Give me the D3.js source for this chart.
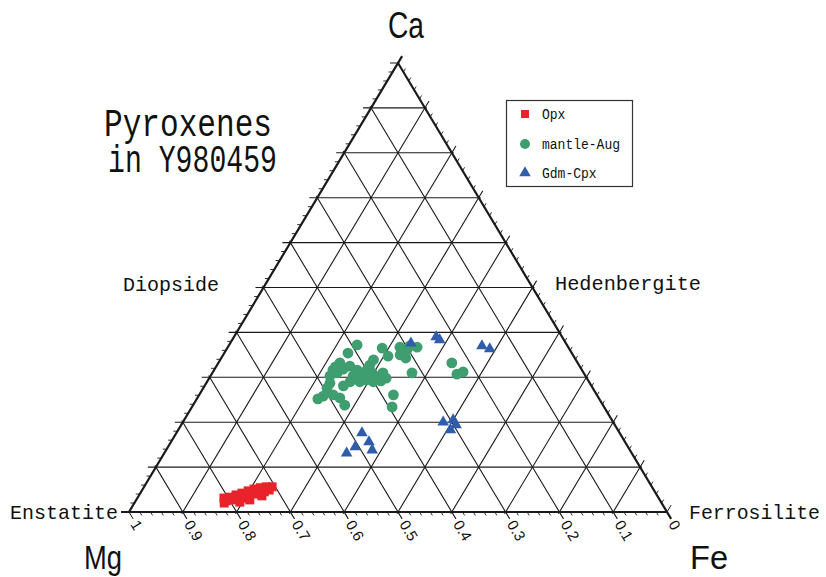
<!DOCTYPE html>
<html>
<head>
<meta charset="utf-8">
<script src="https://cdn.jsdelivr.net/npm/d3@7"></script>
<style>
  body { margin: 0; background: #fff; }
</style>
</head>
<body>
<svg id="chart" width="826" height="577"></svg>
<script>
// composition data, [Wo(Ca), En(Mg), Fs(Fe)] in mol%
const opxData = [
  [2.5, 80.7, 16.8], [2.7, 79.5, 17.8], [2.9, 78.3, 18.8], [3.1, 77.1, 19.8],
  [3.6, 75.9, 20.5], [4.0, 74.8, 21.2], [4.2, 73.8, 22.0], [4.5, 72.6, 22.9],
  [4.9, 71.5, 23.6], [5.6, 70.6, 23.8], [5.6, 71.7, 22.7], [5.4, 72.9, 21.7],
  [5.1, 74.2, 20.7], [4.7, 75.5, 19.8], [4.2, 76.9, 18.9], [3.8, 78.2, 18.0],
  [3.3, 79.6, 17.1], [3.1, 80.8, 16.1], [2.0, 81.3, 16.7], [2.7, 76.2, 21.1],
  [3.6, 73.5, 22.9], [2.2, 78.3, 19.5]
];
const augData = [
  [37.2, 39.0, 23.8], [35.4, 41.6, 23.0], [36.5, 34.7, 28.8], [34.7, 34.5, 30.8],
  [36.7, 31.3, 32.0], [35.6, 31.3, 33.1], [35.0, 32.1, 32.9], [36.1, 30.3, 33.6],
  [37.0, 29.3, 33.7], [36.7, 28.1, 35.2], [33.2, 44.2, 22.6], [31.6, 46.3, 22.1],
  [30.3, 47.5, 22.2], [31.0, 45.8, 23.2], [31.8, 44.3, 23.9], [32.5, 42.7, 24.8],
  [31.6, 41.8, 26.6], [30.3, 43.2, 26.5], [31.0, 41.6, 27.4], [31.6, 40.0, 28.4],
  [32.7, 38.9, 28.4], [33.9, 37.6, 28.5], [31.0, 39.3, 29.7], [30.1, 38.8, 31.1],
  [29.2, 38.6, 32.2], [29.0, 40.1, 30.9], [29.4, 41.2, 29.4], [30.5, 41.3, 28.2],
  [28.7, 48.3, 23.0], [27.6, 49.4, 23.0], [25.8, 51.0, 23.2], [25.2, 52.3, 22.5],
  [26.1, 49.0, 24.9], [25.4, 48.1, 26.5], [23.8, 48.0, 28.2], [26.1, 37.8, 36.1],
  [23.4, 39.4, 37.2], [31.0, 31.9, 37.1], [33.2, 23.4, 43.4], [30.7, 23.7, 45.6],
  [31.2, 22.3, 46.5], [29.0, 44.4, 26.6], [28.1, 46.1, 25.8], [29.8, 37.3, 32.9],
  [29.0, 42.6, 28.4], [32.3, 45.5, 22.2], [34.3, 31.4, 34.3], [31.0, 37.3, 31.7]
];
const gdmData = [
  [37.6, 28.8, 33.6], [39.0, 23.4, 37.6], [38.3, 23.1, 38.6], [37.0, 15.9, 47.1],
  [36.3, 14.8, 48.9], [20.0, 31.6, 48.4], [20.5, 29.5, 50.0], [18.3, 31.1, 50.6],
  [19.4, 29.5, 51.1], [17.6, 47.9, 34.5], [15.6, 47.6, 36.8], [14.5, 50.7, 34.8],
  [13.8, 47.9, 38.3], [13.1, 53.0, 33.9]
];
const seriesNames = ["Opx", "mantle-Aug", "Gdm-Cpx"];
const seriesColors = ["#e8232b", "#3f9e70", "#2f5dab"];
const mgTicks = [1, 0.9, 0.8, 0.7, 0.6, 0.5, 0.4, 0.3, 0.2, 0.1, 0];

const svg = d3.select("#chart");

const x = d3.scaleLinear().domain([0, 1]).range([129, 667]);
const y = d3.scaleLinear().domain([0, 1]).range([512, 63]);

function proj(ca, fe) {
    return [x(fe + ca / 2), y(ca)];
}
function projPct(d) {
    const s = d[0] + d[1] + d[2];
    return proj(d[0] / s, d[2] / s);
}
function unit(p, q) {
    const dx = q[0] - p[0], dy = q[1] - p[1], L = Math.hypot(dx, dy);
    return [dx / L, dy / L];
}

// outward tick directions of the three line families
const dirCa = [-1, 0];
const dirFe = unit(proj(0, 0), proj(1, 0));   // up-right
const dirMg = unit(proj(1, 0), proj(0, 1));   // down-right

const grid = svg.append("g").attr("stroke", "#1a1a1a").attr("fill", "none");

function seg(p, q, w, tickEnd, eOut, eIn) {
    // tickEnd: which end gets the long extension (0 = p, 1 = q)
    const u = unit(p, q);
    const a = tickEnd === 0 ? eOut : eIn;
    const b = tickEnd === 1 ? eOut : eIn;
    grid.append("line")
        .attr("x1", p[0] - u[0] * a).attr("y1", p[1] - u[1] * a)
        .attr("x2", q[0] + u[0] * b).attr("y2", q[1] + u[1] * b)
        .attr("stroke-width", w);
}

d3.range(1, 10).map(i => i / 10).forEach(t => {
    // Ca = t : horizontal, long end at left edge
    seg(proj(t, 0), proj(t, 1 - t), 1.1, 0, 8, 2);
    // Fe = t : base -> right edge, long end at right edge
    seg(proj(0, t), proj(1 - t, t), 1.1, 1, 8, 2);
    // Mg = t : left edge -> base, long end at base
    seg(proj(1 - t, 0), proj(0, 1 - t), 1.1, 1, 8, 2);
});

// triangle edges
seg(proj(0, 1), proj(0, 0), 2.2, 1, 8, 0);   // base, extends past Mg corner
seg(proj(0, 0), proj(1, 0), 2.2, 1, 8, 0);   // left edge, extends past apex
seg(proj(1, 0), proj(0, 1), 2.2, 1, 8, 0);   // right edge, extends past Fe corner

// corner ticks
[[proj(1, 0), dirCa], [proj(0, 1), dirFe], [proj(0, 0), dirMg]].forEach(([p, d]) => {
    grid.append("line")
        .attr("x1", p[0]).attr("y1", p[1])
        .attr("x2", p[0] + d[0] * 8).attr("y2", p[1] + d[1] * 8)
        .attr("stroke-width", 1);
});

// minor ticks every 0.02
d3.range(1, 50).filter(i => i % 5 !== 0).map(i => i / 50).forEach(t => {
    const pts = [
        [proj(0, 1 - t), dirMg],   // base, Mg = t
        [proj(t, 0), dirCa],       // left edge, Ca = t
        [proj(1 - t, t), dirFe]    // right edge, Fe = t
    ];
    pts.forEach(([p, d]) => {
        grid.append("line")
            .attr("x1", p[0]).attr("y1", p[1])
            .attr("x2", p[0] + d[0] * 4).attr("y2", p[1] + d[1] * 4)
            .attr("stroke-width", 0.9);
    });
});

// base tick labels (Mg fraction)
const angle = Math.atan2(dirMg[1], dirMg[0]) * 180 / Math.PI;
svg.append("g").selectAll("text")
    .data(mgTicks)
    .enter()
    .append("text")
    .attr("transform", d => {
        const p = proj(0, 1 - d);
        return "translate(" + (p[0] + dirMg[0] * 11) + "," + (p[1] + dirMg[1] * 11) + ") rotate(" + angle + ")";
    })
    .attr("dominant-baseline", "central")
    .attr("font-family", "Liberation Sans, Arial, sans-serif")
    .attr("font-size", 15)
    .attr("fill", "#111")
    .text(d => String(d));

// data points
const pts = svg.append("g");
pts.selectAll("rect.opx")
    .data(opxData)
    .enter()
    .append("rect")
    .attr("class", "opx")
    .attr("x", d => projPct(d)[0] - 4.5)
    .attr("y", d => projPct(d)[1] - 4.5)
    .attr("width", 9)
    .attr("height", 9)
    .attr("fill", seriesColors[0]);

pts.selectAll("circle.aug")
    .data(augData)
    .enter()
    .append("circle")
    .attr("class", "aug")
    .attr("cx", d => projPct(d)[0])
    .attr("cy", d => projPct(d)[1])
    .attr("r", 5.4)
    .attr("fill", seriesColors[1]);

const tri = d3.symbol().type(d3.symbolTriangle).size(58);
pts.selectAll("path.gdm")
    .data(gdmData)
    .enter()
    .append("path")
    .attr("class", "gdm")
    .attr("d", tri)
    .attr("transform", d => "translate(" + projPct(d)[0] + "," + projPct(d)[1] + ")")
    .attr("fill", seriesColors[2]);

// labels
const mono = "Liberation Mono, DejaVu Sans Mono, monospace";
const sans = "Liberation Sans, Arial, sans-serif";
function label(txt, x0, y0, size, len, family) {
    svg.append("text")
        .attr("x", x0).attr("y", y0)
        .attr("font-family", family)
        .attr("font-size", size)
        .attr("textLength", len)
        .attr("lengthAdjust", "spacingAndGlyphs")
        .attr("fill", "#111")
        .text(txt);
}
label("Ca", 388, 38, 36, 36, sans);
label("Mg", 84, 569, 34, 38, sans);
label("Fe", 690, 569, 34, 38, sans);
label("Enstatite", 10, 519, 21, 108, mono);
label("Ferrosilite", 689, 519, 20, 131, mono);
label("Diopside", 123, 291, 21, 96, mono);
label("Hedenbergite", 555, 290, 21, 146, mono);

// two-line title
const title = svg.append("text")
    .attr("font-family", mono)
    .attr("font-size", 39)
    .attr("fill", "#111");
title.append("tspan").attr("x", 104).attr("y", 136)
    .attr("textLength", 168).attr("lengthAdjust", "spacingAndGlyphs")
    .text("Pyroxenes");
title.append("tspan").attr("x", 108).attr("y", 172)
    .attr("textLength", 169).attr("lengthAdjust", "spacingAndGlyphs")
    .text("in Y980459");

// legend
const leg = svg.append("g");
leg.append("rect")
    .attr("x", 506.5).attr("y", 100.5)
    .attr("width", 126).attr("height", 86)
    .attr("fill", "#fff")
    .attr("stroke", "#333")
    .attr("stroke-width", 1.2);
const legY = [114, 144, 173];
seriesNames.forEach((name, i) => {
    const cy = legY[i];
    if (i === 0) {
        leg.append("rect").attr("x", 521).attr("y", cy - 4).attr("width", 8).attr("height", 8).attr("fill", seriesColors[0]);
    } else if (i === 1) {
        leg.append("circle").attr("cx", 525).attr("cy", cy).attr("r", 5).attr("fill", seriesColors[1]);
    } else {
        leg.append("path").attr("d", tri).attr("transform", "translate(525," + cy + ")").attr("fill", seriesColors[2]);
    }
    leg.append("text")
        .attr("x", 542).attr("y", cy + 5)
        .attr("font-family", mono)
        .attr("font-size", 14)
        .attr("textLength", name.length * 7.8)
        .attr("lengthAdjust", "spacingAndGlyphs")
        .attr("fill", "#111")
        .text(name);
});
</script>
</body>
</html>
